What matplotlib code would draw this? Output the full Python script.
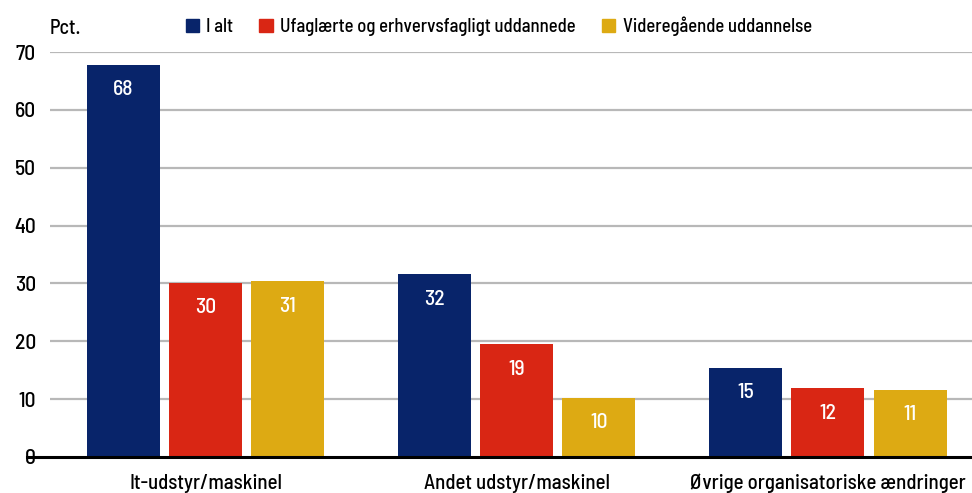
import matplotlib.pyplot as plt
import numpy as np
from matplotlib.patches import Patch

plt.rcParams['font.family'] = ['Barlow Semi Condensed', 'DejaVu Sans']
plt.rcParams['font.weight'] = 'medium'

categories = ['It-udstyr/maskinel', 'Andet udstyr/maskinel', 'Øvrige organisatoriske ændringer']
series = ['I alt', 'Ufaglærte og erhvervsfagligt uddannede', 'Videregående uddannelse']
i_alt = [67.8, 31.6, 15.4]
ufaglaerte = [30.1, 19.5, 11.9]
videregaaende = [30.4, 10.2, 11.6]
labels_i_alt = ['68', '32', '15']
labels_ufaglaerte = ['30', '19', '12']
labels_videregaaende = ['31', '10', '11']
yticks = [0, 10, 20, 30, 40, 50, 60, 70]

colors = ['#08246a', '#d92614', '#ddaa13']

fig = plt.figure(figsize=(9.72, 4.93), dpi=100)
ax = fig.add_axes([50 / 972, 1 - 457 / 493, 922 / 972, 405 / 493])

x = np.arange(len(categories))
width = 0.235
step = 0.264
data = [i_alt, ufaglaerte, videregaaende]
labs = [labels_i_alt, labels_ufaglaerte, labels_videregaaende]

for k in range(3):
    pos = x + (k - 1) * step
    bars = ax.bar(pos, data[k], width, color=colors[k], zorder=3)
    for b, lab in zip(bars, labs[k]):
        ax.annotate(lab, (b.get_x() + b.get_width() / 2, b.get_height()),
                    xytext=(0, -25), textcoords='offset pixels',
                    ha='center', va='center', color='white', fontsize=15.5, zorder=4)

ax.set_xlim(-0.5, 2.463)
ax.set_ylim(0, 70)
ax.set_yticks(yticks)
ax.set_xticks(x)
ax.set_xticklabels(categories)
ax.tick_params(axis='both', length=0, labelsize=15.5)
ax.tick_params(axis='x', labelsize=15, pad=12)
ax.tick_params(axis='y', pad=10)
for s in ax.spines.values():
    s.set_visible(False)
for t in yticks[1:]:
    ax.axhline(t, color='#b8b8b8', lw=1.6, zorder=1)
ax.axhline(0, xmin=-23 / 922, xmax=1, color='black', lw=2.2, zorder=5, clip_on=False)

fig.text(50 / 972, 1 - 29 / 493, 'Pct.', fontsize=14.5, va='center', ha='left')

handles = [Patch(color=c) for c in colors]
fig.legend(handles, series, loc='center', bbox_to_anchor=(0.513, 0.947), ncol=3,
           frameon=False, fontsize=13.5, handlelength=0.7, handleheight=0.7,
           handletextpad=0.4, columnspacing=1.4)

fig.savefig('out.png', dpi=100)
